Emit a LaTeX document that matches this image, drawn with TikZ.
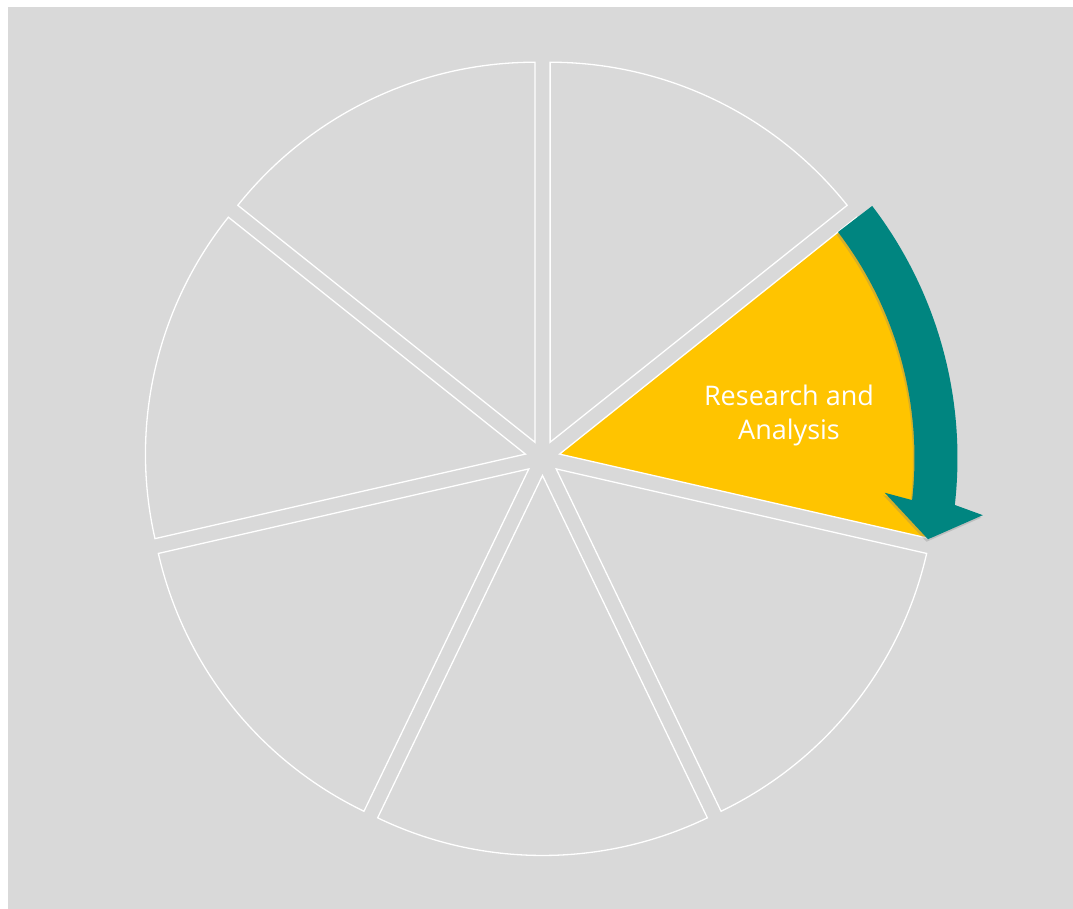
\documentclass[tikz,border=0pt]{standalone}
\usepackage{fontspec}
\setmainfont{Open Sans}
\usetikzlibrary{shadows}

\definecolor{paper}{HTML}{D9D9D9}
\definecolor{gold}{HTML}{FFC400}
\definecolor{tealarrow}{HTML}{008580}

\tikzset{
  slice/.style={draw=white, line width=1.3pt, line join=miter},
  bend arrow/.style={fill=tealarrow,
    drop shadow={opacity=0.3, shadow xshift=-1.5pt, shadow yshift=-2.5pt}}
}

\begin{document}
\begin{tikzpicture}[x=1pt, y=1pt]
\useasboundingbox (0,0) rectangle (1073,909);
\fill[paper] (8,0) rectangle (1073,902);
% seven slices, each pushed out along its middle line
\draw[slice, fill=paper, shift={(542.5,451)}, shift={(64.286:17.5)}] (0,0) -- (38.571:380) arc[start angle=38.571, end angle=90, radius=380] -- cycle;
\draw[slice, fill=gold, shift={(542.5,451)}, shift={(12.857:17.5)}] (0,0) -- (-12.857:380) arc[start angle=-12.857, end angle=38.571, radius=380] -- cycle;
\draw[slice, fill=paper, shift={(542.5,451)}, shift={(-38.571:17.5)}] (0,0) -- (-64.286:380) arc[start angle=-64.286, end angle=-12.857, radius=380] -- cycle;
\draw[slice, fill=paper, shift={(542.5,451)}, shift={(-90:17.5)}] (0,0) -- (-115.714:380) arc[start angle=-115.714, end angle=-64.286, radius=380] -- cycle;
\draw[slice, fill=paper, shift={(542.5,451)}, shift={(-141.429:17.5)}] (0,0) -- (-167.143:380) arc[start angle=-167.143, end angle=-115.714, radius=380] -- cycle;
\draw[slice, fill=paper, shift={(542.5,451)}, shift={(167.143:17.5)}] (0,0) -- (141.429:380) arc[start angle=141.429, end angle=192.857, radius=380] -- cycle;
\draw[slice, fill=paper, shift={(542.5,451)}, shift={(115.714:17.5)}] (0,0) -- (90:380) arc[start angle=90, end angle=141.429, radius=380] -- cycle;
\node[text=white, align=center, font=\fontsize{27}{34}\selectfont] (research) at (789,494) {Research and\\Analysis};
% curved arrow round the highlighted slice
\path[bend arrow, shift={(542.5,451)}] (37.4:372) arc[start angle=37.4, end angle=-6.5, radius=372] -- (-5.8:344) -- (-11.9:394) -- (-7.4:444) -- (-6.5:415) arc[start angle=-6.5, end angle=37.4, radius=415] -- cycle;
\end{tikzpicture}
\end{document}
